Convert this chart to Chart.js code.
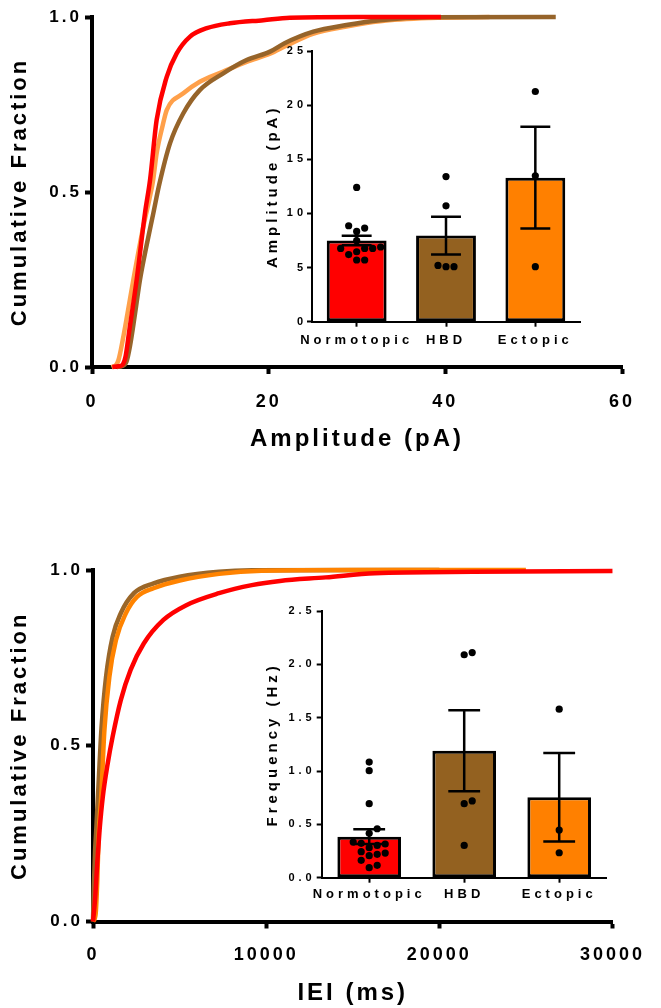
<!DOCTYPE html>
<html>
<head>
<meta charset="utf-8">
<script src="https://cdn.jsdelivr.net/npm/chart.js@4.4.1/dist/chart.umd.min.js"></script>
<style>
    html, body { margin: 0; padding: 0; background: #fff; }
    body { width: 661px; height: 1008px; position: relative; overflow: hidden; }
    canvas { position: absolute; }
</style>
</head>
<body>
<canvas id="ampCdf" width="661" height="460" style="left:0;top:0"></canvas>
<canvas id="ampBar" width="340" height="320" style="left:250px;top:40px"></canvas>
<canvas id="ieiCdf" width="661" height="460" style="left:0;top:548px"></canvas>
<canvas id="freqBar" width="370" height="310" style="left:250px;top:600px"></canvas>
<script>
// Nhóm và màu
const groups = ['Normotopic', 'HBD', 'Ectopic'];

// Phân bố tích lũy biên độ: [pA, tỉ lệ]
const ampNormotopic = [[2.3, 0], [3.0, 0.002], [3.5, 0.008], [3.8, 0.03], [4.2, 0.1], [5.06, 0.25], [6.0, 0.44],
    [6.57, 0.534], [7.32, 0.706], [8.46, 0.829], [9.59, 0.896], [11.1, 0.944], [13.0, 0.968], [15.6, 0.982],
    [19.4, 0.991], [22.4, 0.998], [30, 1], [39.5, 1]];
const ampHBD = [[2.8, 0], [3.4, 0.003], [3.9, 0.015], [4.3, 0.06], [4.8, 0.14], [5.43, 0.249], [6.2, 0.35],
    [6.94, 0.439], [7.6, 0.52], [8.83, 0.639], [10.34, 0.725], [12.2, 0.791], [14.86, 0.839], [17.5, 0.877],
    [20.15, 0.901], [21.8, 0.925], [25.05, 0.958], [28.8, 0.977], [32.6, 0.991], [38.3, 0.999], [52.5, 1]];
const ampEctopic = [[2.2, 0], [2.7, 0.005], [3.0, 0.02], [3.5, 0.08], [4.0, 0.15], [4.68, 0.249], [5.8, 0.4],
    [6.5, 0.48], [6.9, 0.53], [7.32, 0.611], [8.0, 0.69], [8.46, 0.734], [10.34, 0.782], [12.2, 0.815],
    [14.86, 0.844], [17.5, 0.872], [20.15, 0.895], [22, 0.918], [25, 0.952], [28.8, 0.973], [32.6, 0.988],
    [38.3, 0.997], [45, 1]];

// Phân bố tích lũy IEI: [ms, tỉ lệ]
const ieiNormotopic = [[0, 0], [60, 0.03], [130, 0.07], [244, 0.166], [380, 0.26], [567, 0.355], [851, 0.45],
    [1134, 0.526], [1605, 0.63], [2172, 0.716], [2932, 0.791], [4066, 0.858], [5387, 0.9], [7276, 0.934],
    [9170, 0.957], [10800, 0.969], [13440, 0.979], [16276, 0.991], [21947, 0.995], [30000, 0.997]];
const ieiHBD = [[0, 0], [50, 0.1], [120, 0.2], [187, 0.26], [380, 0.45], [490, 0.55], [754, 0.696],
    [1134, 0.81], [1605, 0.877], [2365, 0.934], [3499, 0.962], [5008, 0.981], [7276, 0.995], [9170, 0.999],
    [20000, 1]];
const ieiEctopic = [[0, 0], [150, 0.02], [250, 0.12], [330, 0.25], [473, 0.355], [660, 0.545], [945, 0.696],
    [1323, 0.8], [1890, 0.876], [2552, 0.924], [3497, 0.948], [5010, 0.97], [7280, 0.989], [9740, 0.998],
    [15000, 1], [25000, 1]];

// Cột trung bình ± SEM và từng tế bào
const ampMeans = [7.5, 7.95, 13.3];
const ampSems = [0.44, 1.75, 4.7];
const ampCells = [
    [12.4, 8.86, 8.65, 8.34, 7.48, 6.9, 6.77, 6.77, 6.77, 6.46, 6.2, 5.7, 5.7],
    [13.4, 10.7, 5.2, 5.08, 5.08],
    [21.26, 13.48, 5.08]
];
const freqMeans = [0.385, 1.19, 0.755];
const freqSems = [0.068, 0.38, 0.415];
const freqCells = [
    [1.084, 1.003, 0.694, 0.459, 0.416, 0.334, 0.322, 0.316, 0.303, 0.281, 0.244, 0.231, 0.219, 0.206, 0.1625, 0.116, 0.094],
    [2.11, 2.09, 0.72, 0.694, 0.303],
    [1.58, 0.447, 0.234]
];

const ampTicksX = [0, 20, 40, 60];
const ieiTicksX = [0, 10000, 20000, 30000];

Chart.defaults.font.family = "'Liberation Sans', Arial, sans-serif";
Chart.defaults.font.weight = 'bold';
Chart.defaults.color = '#000';
Chart.defaults.animation = false;

// Giãn chữ kiểu GraphPad
const spacing = {
    id: 'spacing',
    beforeUpdate(chart, args, opts) { chart.ctx.letterSpacing = opts.px + 'px'; },
    beforeDraw(chart, args, opts) { chart.ctx.letterSpacing = opts.px + 'px'; }
};

// Thanh sai số (SEM)
const errorBars = {
    id: 'errorBars',
    afterDatasetDraw(chart, args) {
        const ds = chart.data.datasets[args.index];
        if (!ds.sem) return;
        const ctx = chart.ctx;
        const y = chart.scales.y;
        ctx.save();
        ctx.strokeStyle = '#000';
        ctx.lineWidth = 2.5;
        args.meta.data.forEach((bar, i) => {
            const top = y.getPixelForValue(ds.data[i] + ds.sem[i]);
            const bot = y.getPixelForValue(ds.data[i] - ds.sem[i]);
            const half = bar.width / 4;
            ctx.beginPath();
            ctx.moveTo(bar.x, top); ctx.lineTo(bar.x, bot);
            ctx.moveTo(bar.x - half, top); ctx.lineTo(bar.x + half, top);
            ctx.moveTo(bar.x - half, bot); ctx.lineTo(bar.x + half, bot);
            ctx.stroke();
        });
        ctx.restore();
    }
};

const toXY = pairs => pairs.map(p => ({ x: p[0], y: p[1] }));

const lineSet = (data, color) => ({
    data: toXY(data),
    borderColor: color,
    borderWidth: 4.5,
    pointRadius: 0,
    cubicInterpolationMode: 'monotone',
    clip: 8
});

const cdfChart = (id, sets, xMax, xTitle, area) => new Chart(document.getElementById(id), {
    type: 'line',
    data: { datasets: sets },
    plugins: [spacing],
    options: {
        responsive: false,
        layout: { padding: { left: 0, top: area.top, right: area.right, bottom: 0 } },
        plugins: { legend: { display: false }, tooltip: { enabled: false }, spacing: { px: 3 } },
        scales: {
            x: {
                type: 'linear', min: 0, max: xMax,
                afterFit: s => { s.height = area.xh; },
                afterBuildTicks: s => { s.ticks = area.ticks.map(v => ({ value: v })); },
                border: { color: '#000', width: 4 },
                grid: { drawOnChartArea: false, color: '#000', tickLength: 7, tickWidth: 4, tickColor: '#000' },
                ticks: { font: { size: 18 }, padding: area.xpad, maxRotation: 0, autoSkip: false, callback: v => String(v) },
                title: { display: true, text: xTitle, font: { size: 24 }, padding: { top: 0, bottom: area.tpad } }
            },
            y: {
                min: 0, max: 1,
                afterFit: s => { s.width = area.left; },
                border: { color: '#000', width: 4 },
                grid: { drawOnChartArea: false, color: '#000', tickLength: 7, tickWidth: 4, tickColor: '#000' },
                ticks: { stepSize: 0.5, font: { size: 17 }, padding: 3, callback: v => v.toFixed(1) },
                title: { display: true, text: 'Cumulative Fraction', font: { size: 22 }, padding: { top: 7, bottom: 7 } }
            }
        }
    }
});

const barChart = (id, means, sems, yMax, yStep, digits, yTitle, area) => new Chart(document.getElementById(id), {
    type: 'bar',
    data: {
        labels: groups,
        datasets: [{
            type: 'bar',
            data: means,
            sem: sems,
            order: 2,
            grouped: false,
            backgroundColor: ['#ff0000', '#936120', '#ff8000'],
            borderColor: '#000',
            borderWidth: 3,
            borderSkipped: false,
            categoryPercentage: 1,
            barPercentage: 0.67
        }, {
            type: 'scatter',
            data: [],
            order: 1,
            xAxisID: 'xs',
            pointRadius: 3.6,
            pointBorderWidth: 0,
            backgroundColor: '#000'
        }]
    },
    plugins: [spacing, errorBars],
    options: {
        responsive: false,
        layout: { padding: { left: 0, top: 11, right: area.right, bottom: 0 } },
        plugins: { legend: { display: false }, tooltip: { enabled: false }, spacing: { px: 4 } },
        scales: {
            x: {
                afterFit: s => { s.height = area.xh; },
                border: { color: '#000', width: 2 },
                grid: { offset: false, drawOnChartArea: false, color: '#000', tickLength: 5, tickWidth: 2 },
                ticks: { font: { size: 13 }, padding: area.xpad, maxRotation: 0, autoSkip: false }
            },
            xs: { type: 'linear', display: false, min: -0.5, max: 2.5, offset: false },
            y: {
                min: 0, max: yMax,
                afterFit: s => { s.width = area.left; },
                border: { color: '#000', width: 2 },
                grid: { drawOnChartArea: false, color: '#000', tickLength: 5, tickWidth: 2 },
                ticks: { stepSize: yStep, font: { size: 11 }, padding: area.ypad, callback: v => v.toFixed(digits) },
                title: { display: true, text: yTitle, font: { size: 15 }, padding: { top: 14, bottom: 0 } }
            }
        }
    }
});

// Xếp chấm kiểu beeswarm theo pixel thật của trục
const swarm = (chart, cells, dot) => {
    const xs = chart.scales.xs, ys = chart.scales.y;
    const pts = [];
    cells.forEach((vals, g) => {
        const cx = xs.getPixelForValue(g);
        const placed = [];
        [...vals].sort((a, b) => a - b).forEach(v => {
            const py = ys.getPixelForValue(v);
            for (let k = 0; k < 30; k++) {
                const px = cx + (k % 2 ? 1 : -1) * Math.ceil(k / 2) * dot;
                if (placed.every(p => Math.hypot(p.x - px, p.y - py) >= dot)) {
                    placed.push({ x: px, y: py });
                    pts.push({ x: xs.getValueForPixel(px), y: v });
                    break;
                }
            }
        });
    });
    chart.data.datasets[1].data = pts;
    chart.update();
};

cdfChart('ampCdf', [
    lineSet(ampNormotopic, '#ff0000'),
    lineSet(ampHBD, '#96642a'),
    lineSet(ampEctopic, '#ffa04a')
], 60, 'Amplitude (pA)', { left: 92, top: 17, right: 39, xh: 93, xpad: 17, tpad: 6, ticks: ampTicksX });

cdfChart('ieiCdf', [
    lineSet(ieiNormotopic, '#ff0000'),
    lineSet(ieiEctopic, '#ff8300'),
    lineSet(ieiHBD, '#9a6628')
], 30000, 'IEI (ms)', { left: 93, top: 22, right: 39, xh: 86.5, xpad: 16, tpad: 0, ticks: ieiTicksX });

const ampBar = barChart('ampBar', ampMeans, ampSems, 25, 5, 0, 'Amplitude (pA)',
    { left: 62, right: 10, xh: 38.3, xpad: 5.5, ypad: 0 });
swarm(ampBar, ampCells, 8);

const freqBar = barChart('freqBar', freqMeans, freqSems, 2.5, 0.5, 1, 'Frequency (Hz)',
    { left: 71.7, right: 13.3, xh: 32.3, xpad: 3.5, ypad: 1 });
swarm(freqBar, freqCells, 8);
</script>
</body>
</html>
